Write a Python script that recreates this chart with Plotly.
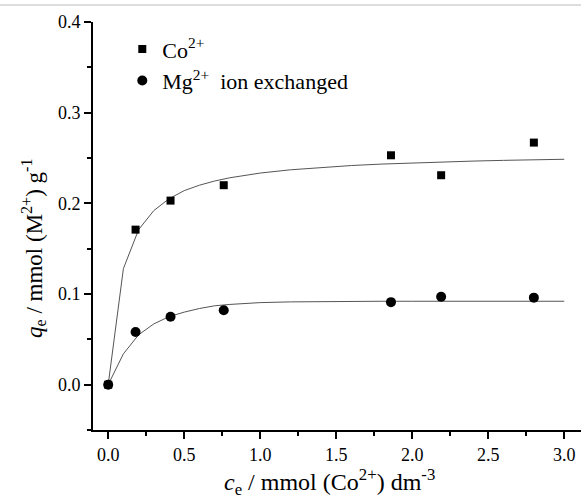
import plotly.graph_objects as go

# measured data
ce_co = [0.0, 0.18, 0.41, 0.76, 1.86, 2.19, 2.80]
qe_co = [0.0, 0.171, 0.203, 0.220, 0.253, 0.231, 0.267]
ce_mg = [0.0, 0.18, 0.41, 0.76, 1.86, 2.19, 2.80]
qe_mg = [0.0, 0.058, 0.075, 0.082, 0.091, 0.097, 0.096]

# fitted curves
fit_x = [0.0, 0.1, 0.2, 0.3, 0.4, 0.5, 0.6, 0.7, 0.8, 0.9, 1.0, 1.2, 1.4, 1.6, 1.8, 2.0, 2.2, 2.4, 2.6, 2.8, 3.0]
fit_co = [0.0, 0.128, 0.171, 0.192, 0.205, 0.214, 0.220, 0.2246, 0.2282, 0.2311, 0.2334, 0.2370, 0.2397,
          0.2417, 0.2433, 0.2446, 0.2457, 0.2466, 0.2474, 0.2481, 0.2486]
fit_mg = [0.0, 0.034, 0.055, 0.067, 0.075, 0.080, 0.084, 0.087, 0.0885, 0.0895, 0.0905, 0.0913, 0.0917,
          0.0919, 0.092, 0.092, 0.092, 0.092, 0.092, 0.092, 0.092]

x_ticks = [0.0, 0.5, 1.0, 1.5, 2.0, 2.5, 3.0]
y_ticks = [0.0, 0.1, 0.2, 0.3, 0.4]

FONT = "Liberation Serif"

fig = go.Figure()
fig.add_trace(go.Scatter(x=fit_x, y=fit_co, mode="lines", line=dict(color="#555555", width=1),
                         showlegend=False, hoverinfo="skip"))
fig.add_trace(go.Scatter(x=fit_x, y=fit_mg, mode="lines", line=dict(color="#555555", width=1),
                         showlegend=False, hoverinfo="skip"))
fig.add_trace(go.Scatter(x=ce_co, y=qe_co, mode="markers", name="Co<sup>2+</sup>",
                         marker=dict(symbol="square", size=8, color="black")))
fig.add_trace(go.Scatter(x=ce_mg, y=qe_mg, mode="markers", name="Mg<sup>2+</sup>  ion exchanged",
                         marker=dict(symbol="circle", size=10, color="black")))

fig.update_layout(
    width=581, height=500,
    margin=dict(l=93, r=0, t=22, b=70),
    plot_bgcolor="white", paper_bgcolor="white",
    font=dict(family=FONT, color="black", size=18),
    legend=dict(x=0.06, y=0.985, xanchor="left", yanchor="top", bgcolor="rgba(0,0,0,0)",
                font=dict(size=22, family=FONT), itemsizing="trace", tracegroupgap=0,
                itemwidth=30),
    xaxis=dict(range=[-0.1, 3.11], tickvals=x_ticks, ticktext=[f"{v:.1f}" for v in x_ticks],
               showgrid=False, zeroline=False, showline=True, linecolor="black", linewidth=2,
               ticks="outside", ticklen=7, tickwidth=1.5, tickcolor="black",
               minor=dict(dtick=0.25, ticks="outside", ticklen=4, tickwidth=1.5, tickcolor="black", tick0=0),
               tickfont=dict(size=18, family=FONT)),
    yaxis=dict(range=[-0.05, 0.4], tickvals=y_ticks, ticktext=[f"{v:.1f}" for v in y_ticks],
               showgrid=False, zeroline=False, showline=True, linecolor="black", linewidth=2,
               ticks="outside", ticklen=7, tickwidth=1.5, tickcolor="black",
               minor=dict(dtick=0.05, ticks="outside", ticklen=4, tickwidth=1.5, tickcolor="black", tick0=0),
               tickfont=dict(size=18, family=FONT)),
    annotations=[
        dict(text="<i>c</i><sub>e</sub> / mmol (Co<sup>2+</sup>) dm<sup>-3</sup>", xref="paper", yref="paper",
             x=(329 - 93) / 488, y=-(482 - 430) / 408, xanchor="center", yanchor="middle",
             showarrow=False, font=dict(size=24, family=FONT)),
        dict(text="<i>q</i><sub>e</sub> / mmol (M<sup>2+</sup>) g<sup>-1</sup>", xref="paper", yref="paper",
             x=-(93 - 33) / 488, y=(430 - 248) / 408, xanchor="center", yanchor="middle",
             textangle=-90, showarrow=False, font=dict(size=23, family=FONT)),
    ],
    shapes=[dict(type="line", xref="paper", yref="paper", x0=-93 / 488, x1=1, y0=(430 - 5) / 408,
                 y1=(430 - 5) / 408, line=dict(color="#bbbbbb", width=1))],
)

fig.write_html("out.html")
